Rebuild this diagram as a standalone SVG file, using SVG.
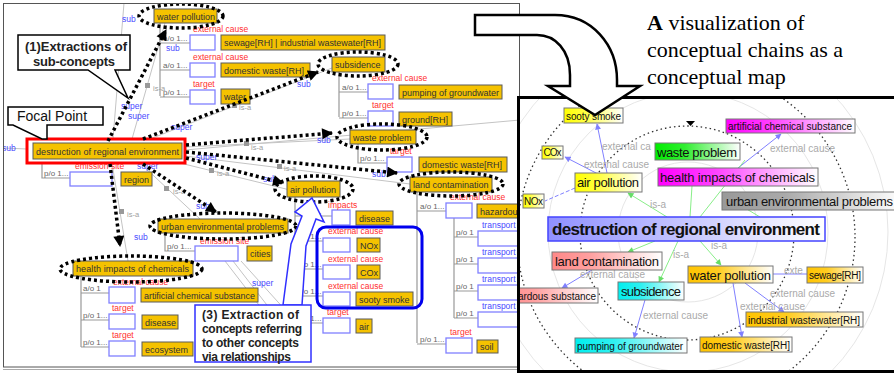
<svg xmlns="http://www.w3.org/2000/svg" width="894" height="374" viewBox="0 0 894 374">
<defs>
<style>
.ob{fill:#f5c200;stroke:#5a5a5a;stroke-width:1}
.wb{fill:#fff;stroke:#8080ff;stroke-width:1.3}
.tx{font-family:"Liberation Sans",Arial,sans-serif;font-size:9px;fill:#333}
.rd{font-family:"Liberation Sans",Arial,sans-serif;font-size:8.5px;fill:#ff3030}
.bl{font-family:"Liberation Sans",Arial,sans-serif;font-size:8.5px;fill:#4a4aff}
.gy{font-family:"Liberation Sans",Arial,sans-serif;font-size:7.5px;fill:#a0a0a0}
.ao{font-family:"Liberation Sans",Arial,sans-serif;font-size:8px;fill:#666}
.gl{stroke:#c4c4c4;stroke-width:1;fill:none}
.tr{stroke:#999;stroke-width:1.2;fill:none}
.dt{stroke:#000;stroke-width:3.5;stroke-dasharray:3 3;fill:none}
.sq{fill:#999}
.co{font-family:"Liberation Sans",Arial,sans-serif;font-weight:bold;fill:#222}
.rn{stroke:#777;stroke-width:1}
.r13{font-family:"Liberation Sans",Arial,sans-serif;font-size:13px;fill:#111}
.r10{font-family:"Liberation Sans",Arial,sans-serif;font-size:10px;fill:#111}
.rl{font-family:"Liberation Sans",Arial,sans-serif;font-size:10px;fill:#aaa}
.be{stroke:#8080ff;stroke-width:1;fill:none}
.ge{stroke:#88ee88;stroke-width:1;fill:none}
.dc{stroke:#333;stroke-width:1.3;stroke-dasharray:1.5 3;fill:none}
.fc{stroke:#e6e6e6;stroke-width:1;fill:none}
.tt{font-family:"Liberation Serif","Times New Roman",serif;font-size:22px;fill:#000}
</style>
<marker id="ah" viewBox="0 0 10 10" refX="9" refY="5" markerWidth="12" markerHeight="11" markerUnits="userSpaceOnUse" orient="auto"><path d="M0,0 L10,5 L0,10 Z" fill="#000"/></marker>
<marker id="bh" viewBox="0 0 10 10" refX="9" refY="5" markerWidth="7" markerHeight="6" markerUnits="userSpaceOnUse" orient="auto"><path d="M0,0 L10,5 L0,10 Z" fill="#8080ff"/></marker>
<marker id="gh" viewBox="0 0 10 10" refX="9" refY="5" markerWidth="7" markerHeight="6" markerUnits="userSpaceOnUse" orient="auto"><path d="M0,0 L10,5 L0,10 Z" fill="#66dd66"/></marker>
<clipPath id="cl"><rect x="4" y="4" width="513" height="363"/></clipPath>
<clipPath id="cr"><rect x="520" y="99" width="374" height="271"/></clipPath>
<linearGradient id="gY"><stop offset="0" stop-color="#ffff00"/><stop offset="0.35" stop-color="#ffff40"/><stop offset="1" stop-color="#fff"/></linearGradient>
<linearGradient id="gO"><stop offset="0" stop-color="#ffc400"/><stop offset="0.35" stop-color="#ffcc20"/><stop offset="1" stop-color="#fff"/></linearGradient>
<linearGradient id="gG"><stop offset="0" stop-color="#00ee00"/><stop offset="0.35" stop-color="#30ee30"/><stop offset="1" stop-color="#fff"/></linearGradient>
<linearGradient id="gM"><stop offset="0" stop-color="#ff00ff"/><stop offset="0.35" stop-color="#ff40ff"/><stop offset="1" stop-color="#fff"/></linearGradient>
<linearGradient id="gS"><stop offset="0" stop-color="#999"/><stop offset="0.35" stop-color="#aaa"/><stop offset="1" stop-color="#fff"/></linearGradient>
<linearGradient id="gB"><stop offset="0" stop-color="#9090ff"/><stop offset="0.3" stop-color="#b0b0ff"/><stop offset="1" stop-color="#fff"/></linearGradient>
<linearGradient id="gP"><stop offset="0" stop-color="#ff8888"/><stop offset="0.35" stop-color="#ffa0a0"/><stop offset="1" stop-color="#fff"/></linearGradient>
<linearGradient id="gC"><stop offset="0" stop-color="#00eeee"/><stop offset="0.35" stop-color="#30f0f0"/><stop offset="1" stop-color="#fff"/></linearGradient>
</defs>
<rect width="894" height="374" fill="#fff"/>

<!-- LEFT PANEL -->
<rect x="3.5" y="3.5" width="516" height="363.5" fill="#fff" stroke="#555" stroke-width="1"/>
<line x1="3" y1="369.5" x2="520" y2="369.5" stroke="#aaa" stroke-width="1"/>
<g clip-path="url(#cl)">
<g id="relations">
<line class="gl" x1="113" y1="139" x2="124" y2="3"/>
<line class="gl" x1="3" y1="148" x2="27" y2="149"/>
<line class="gl" x1="132" y1="139" x2="165" y2="23"/>
<line class="gl" x1="150" y1="139" x2="332" y2="68"/>
<line class="gl" x1="185" y1="147" x2="350" y2="139"/>
<line class="gl" x1="185" y1="150" x2="520" y2="120"/>
<line class="gl" x1="185" y1="156" x2="410" y2="184"/>
<line class="gl" x1="180" y1="163" x2="290" y2="190"/>
<line class="gl" x1="140" y1="163" x2="200" y2="219"/>
<line class="gl" x1="112" y1="163" x2="128" y2="261"/>
<line class="gl" x1="225" y1="261" x2="282" y2="335"/>
<line class="gl" x1="233" y1="261" x2="290" y2="335"/>
<line class="gl" x1="241" y1="261" x2="296" y2="322"/>
<rect class="sq" x="232" y="103" width="5" height="5"/><text class="gy" x="239" y="110">is-a</text>
<rect class="sq" x="145" y="83" width="5" height="5"/><text class="gy" x="153" y="91">is-a</text>
<rect class="sq" x="244" y="141" width="5" height="5"/><text class="gy" x="251" y="150">is-a</text>
<rect class="sq" x="277" y="164" width="5" height="5"/><text class="gy" x="284" y="171">is-a</text>
<rect class="sq" x="209" y="168" width="5" height="5"/><text class="gy" x="217" y="176">is-a</text>
<rect class="sq" x="164" y="186" width="5" height="5"/><text class="gy" x="173" y="194">is-a</text>
<rect class="sq" x="119" y="209" width="5" height="5"/><text class="gy" x="127" y="217">is-a</text>
<text class="bl" x="122" y="22">sub</text>
<text class="bl" x="166" y="51">sub</text>
<text class="bl" x="297" y="87">sub</text>
<text class="bl" x="317" y="143">sub</text>
<text class="bl" x="372" y="177">sub</text>
<text class="bl" x="263" y="182">sub</text>
<text class="bl" x="196" y="209">sub</text>
<text class="bl" x="134" y="240">sub</text>
<text class="bl" x="2" y="151">sub</text>
<text class="bl" x="121" y="109">super</text>
<text class="bl" x="128" y="119">super</text>
<text class="bl" x="171" y="130">super</text>
<text class="bl" x="137" y="169">super</text>
<text class="bl" x="196" y="160">super</text>
<text class="bl" x="252" y="286">super</text>
</g>

<g id="trees">
<path class="tr" d="M160,23V96M160,43H190M160,70H190M160,97H190"/>
<path class="tr" d="M339,72V117M339,92H368M339,118H368"/>
<path class="tr" d="M358,144V163H387"/>
<path class="tr" d="M417,192V343M417,211H446M417,344H446"/>
<path class="tr" d="M454,218V318M454,237H478M454,264H478M454,291H478M454,318H478"/>
<path class="tr" d="M295,197V323M295,216H332M295,241H323M295,269H323M295,296H323M295,323H323"/>
<path class="tr" d="M165,233V251H195"/>
<path class="tr" d="M81,276V347M81,293H109M81,320H109M81,347H109"/>
<path class="tr" d="M42,163V178H70"/>
<text class="ao" x="163" y="41">a/o 1...</text>
<text class="ao" x="163" y="68">a/o 1...</text>
<text class="ao" x="163" y="95">p/o 1...</text>
<text class="ao" x="342" y="90">a/o 1...</text>
<text class="ao" x="342" y="116">p/o 1...</text>
<text class="ao" x="360" y="161">p/o 1...</text>
<text class="ao" x="420" y="209">a/o 1...</text>
<text class="ao" x="420" y="342">p/o 1...</text>
<text class="ao" x="456" y="235">p/o 1</text>
<text class="ao" x="456" y="262">p/o 1</text>
<text class="ao" x="456" y="289">p/o 1</text>
<text class="ao" x="456" y="316">p/o 1</text>
<text class="ao" x="297" y="214">a/o 1...</text>
<text class="ao" x="297" y="239">a/o 1...</text>
<text class="ao" x="297" y="267">a/o 1...</text>
<text class="ao" x="297" y="294">a/o 1...</text>
<text class="ao" x="297" y="321">p/o 1...</text>
<text class="ao" x="167" y="249">p/o 1...</text>
<text class="ao" x="83" y="291">a/o 1</text>
<text class="ao" x="83" y="318">p/o 1...</text>
<text class="ao" x="83" y="345">p/o 1...</text>
<text class="ao" x="44" y="176">p/o 1...</text>
</g>

<g id="slots">
<rect class="wb" x="190" y="35" width="25" height="15"/><text class="rd" x="193" y="32">external cause</text>
<rect class="wb" x="190" y="63" width="25" height="14"/><text class="rd" x="193" y="60">external cause</text>
<rect class="wb" x="190" y="90" width="25" height="14"/><text class="rd" x="193" y="87">target</text>
<rect class="wb" x="368" y="84" width="25" height="15"/><text class="rd" x="372" y="81">external cause</text>
<rect class="wb" x="368" y="111" width="25" height="15"/><text class="rd" x="372" y="108">target</text>
<rect class="wb" x="387" y="157" width="25" height="15"/><text class="rd" x="390" y="154">target</text>
<rect class="wb" x="446" y="203" width="26" height="15"/><text class="rd" x="450" y="200">external cause</text>
<rect class="wb" x="478" y="231" width="45" height="15"/><text class="bl" x="482" y="228">transport</text>
<rect class="wb" x="478" y="258" width="45" height="15"/><text class="bl" x="482" y="255">transport</text>
<rect class="wb" x="478" y="285" width="45" height="15"/><text class="bl" x="482" y="282">transport</text>
<rect class="wb" x="478" y="312" width="45" height="15"/><text class="bl" x="482" y="309">transport</text>
<rect class="wb" x="446" y="338" width="26" height="15"/><text class="rd" x="450" y="335">target</text>
<rect class="wb" x="332" y="210" width="18" height="15"/><text class="rd" x="328" y="208">impacts</text>
<rect class="wb" x="323" y="238" width="27" height="14"/><text class="rd" x="328" y="234">external cause</text>
<rect class="wb" x="323" y="265" width="27" height="14"/><text class="rd" x="328" y="262">external cause</text>
<rect class="wb" x="323" y="292" width="27" height="14"/><text class="rd" x="328" y="289">external cause</text>
<rect class="wb" x="323" y="318" width="27" height="15"/><text class="rd" x="327" y="315">target</text>
<rect class="wb" x="195" y="246" width="43" height="15"/><text class="rd" x="200" y="244">emission site</text>
<rect class="wb" x="109" y="287" width="26" height="16"/><text class="rd" x="113" y="285">external cause</text>
<rect class="wb" x="109" y="314" width="26" height="15"/><text class="rd" x="112" y="311">target</text>
<rect class="wb" x="109" y="341" width="26" height="15"/><text class="rd" x="112" y="338">target</text>
<rect class="wb" x="70" y="172" width="42" height="14"/><text class="rd" x="75" y="169">emission site</text>
</g>

<g id="values">
<rect class="ob" x="221" y="35" width="164" height="15"/><text class="tx" x="224" y="46" textLength="157">sewage[RH] | industrial wastewater[RH]</text>
<rect class="ob" x="221" y="63" width="89" height="14"/><text class="tx" x="224" y="73.5">domestic waste[RH]</text>
<rect class="ob" x="221" y="89" width="29" height="15"/><text class="tx" x="224" y="100">water</text>
<rect class="ob" x="399" y="85" width="103" height="14"/><text class="tx" x="402" y="95.5" textLength="97">pumping of groundwater</text>
<rect class="ob" x="399" y="112" width="53" height="14"/><text class="tx" x="402" y="122.5">ground[RH]</text>
<rect class="ob" x="419" y="157" width="88" height="15"/><text class="tx" x="422" y="168">domestic waste[RH]</text>
<rect class="ob" x="477" y="204" width="60" height="14"/><text class="tx" x="480" y="214.5">hazardous substance</text>
<rect class="ob" x="477" y="340" width="21" height="13"/><text class="tx" x="480" y="350">soil</text>
<rect class="ob" x="356" y="211" width="37" height="14"/><text class="tx" x="359" y="221.5">disease</text>
<rect class="ob" x="357" y="238" width="23" height="14"/><text class="tx" x="360" y="248.5">NOx</text>
<rect class="ob" x="357" y="265" width="23" height="14"/><text class="tx" x="360" y="275.5">COx</text>
<rect class="ob" x="356" y="292" width="57" height="14"/><text class="tx" x="359" y="302.5">sooty smoke</text>
<rect class="ob" x="356" y="319" width="16" height="14"/><text class="tx" x="359" y="329.5">air</text>
<rect class="ob" x="247" y="246" width="25" height="15"/><text class="tx" x="250" y="257">cities</text>
<rect class="ob" x="121" y="172" width="31" height="14"/><text class="tx" x="124" y="182.5">region</text>
<rect class="ob" x="141" y="288" width="117" height="14"/><text class="tx" x="144" y="298.5" textLength="111">artificial chemical substance</text>
<rect class="ob" x="142" y="315" width="36" height="14"/><text class="tx" x="145" y="325.5">disease</text>
<rect class="ob" x="142" y="342" width="51" height="14"/><text class="tx" x="145" y="352.5">ecosystem</text>
</g>

<g id="focal">
<rect x="27" y="139" width="158" height="24" fill="#fff" stroke="#ff0000" stroke-width="3"/>
<rect class="ob" x="33" y="143" width="149" height="16"/>
<text class="tx" x="36" y="154.5" textLength="143">destruction of regional environment</text>
</g>
<g id="n-water-pollution"><rect class="ob" x="154" y="9" width="63" height="14"/><text class="tx" x="157" y="19.5">water pollution</text></g>
<g id="n-subsidence"><rect class="ob" x="332" y="57" width="53" height="15"/><text class="tx" x="335" y="68">subsidence</text></g>
<g id="n-waste-problem"><rect class="ob" x="350" y="130" width="66" height="14"/><text class="tx" x="353" y="140.5">waste problem</text></g>
<g id="n-land-contamination"><rect class="ob" x="410" y="177" width="82" height="15"/><text class="tx" x="413" y="188">land contamination</text></g>
<g id="n-air-pollution"><rect class="ob" x="287" y="181" width="53" height="16"/><text class="tx" x="290" y="192.5">air pollution</text></g>
<g id="n-urban"><rect class="ob" x="158" y="219" width="130" height="14"/><text class="tx" x="161" y="229.5" textLength="123">urban environmental problems</text></g>
<g id="n-health"><rect class="ob" x="73" y="261" width="120" height="15"/><text class="tx" x="76" y="272" textLength="113">health impacts of chemicals</text></g>

<g id="extraction-connectors">
<ellipse class="dt" cx="181" cy="16" rx="42" ry="12"/>
<ellipse class="dt" cx="358" cy="64" rx="40" ry="12"/>
<ellipse class="dt" cx="382" cy="137" rx="45" ry="13"/>
<ellipse class="dt" cx="451" cy="184" rx="52" ry="12"/>
<ellipse class="dt" cx="314" cy="189" rx="39" ry="13"/>
<ellipse class="dt" cx="223" cy="226" rx="73" ry="13"/>
<ellipse class="dt" cx="131" cy="269" rx="71" ry="13"/>
<line class="dt" x1="108" y1="141" x2="166" y2="30" marker-end="url(#ah)"/>
<line class="dt" x1="143" y1="139" x2="318" y2="72" marker-end="url(#ah)"/>
<line class="dt" x1="186" y1="145" x2="332" y2="133" marker-end="url(#ah)"/>
<line class="dt" x1="186" y1="152" x2="397" y2="173" marker-end="url(#ah)"/>
<line class="dt" x1="186" y1="158" x2="283" y2="183" marker-end="url(#ah)"/>
<line class="dt" x1="143" y1="164" x2="216" y2="212" marker-end="url(#ah)"/>
<line class="dt" x1="110" y1="164" x2="120" y2="246" marker-end="url(#ah)"/>
</g>

<g id="group-box">
<rect x="317" y="227" width="105" height="81" rx="9" fill="none" stroke="#0000ee" stroke-width="3"/>
</g>

<g id="callout-1">
<path d="M88,70 H18 V35 H130 V70 H115 L128,98 Z" fill="#fff" stroke="#000" stroke-width="1.5" stroke-linejoin="miter"/>
<text class="co" x="25" y="51" font-size="13" textLength="102">(1)Extractions of</text>
<text class="co" x="33" y="66" font-size="13" textLength="82">sub-concepts</text>
</g>
<g id="callout-focal">
<path d="M13,125 H8 V107 H103 V125 H47 V139 L42,139 Z" fill="#fff" stroke="#000" stroke-width="1.5"/>
<text x="17" y="121" font-family="Liberation Sans, Arial, sans-serif" font-size="14" fill="#111">Focal Point</text>
</g>
<g id="callout-3">
<path d="M283,305 L291,244 L302,216 L295,212 L312,198 L324,222 L316,219 L306,246 L302,305 Z" fill="#fff" stroke="#3030ff" stroke-width="1.5"/>
<rect x="195" y="305" width="116" height="57" fill="#fff" stroke="#3030ff" stroke-width="1.5"/>
<text class="co" x="202" y="319" font-size="12" textLength="97">(3) Extraction of</text>
<text class="co" x="202" y="333" font-size="12" textLength="100">concepts referring</text>
<text class="co" x="202" y="347" font-size="12" textLength="97">to other concepts</text>
<text class="co" x="202" y="361" font-size="12" textLength="89">via relationships</text>
</g>
</g>

<!-- RIGHT PANEL -->
<rect x="518.5" y="97.5" width="380" height="274" fill="#fff" stroke="#000" stroke-width="3"/>
<g clip-path="url(#cr)">
<g id="rings">
<circle class="fc" cx="688" cy="232" r="70"/>
<circle class="fc" cx="688" cy="232" r="140"/>
<circle class="fc" cx="688" cy="232" r="200"/>
<circle class="dc" cx="687" cy="233" r="107"/>
<circle class="dc" cx="686" cy="237" r="169"/>
<path d="M686,121 H695 L690.5,126 Z" fill="#000"/>
</g>
<g id="map-connectors">
<line class="be" x1="607" y1="173" x2="597" y2="124" marker-end="url(#bh)"/>
<line class="be" x1="598" y1="174" x2="565" y2="157" marker-end="url(#bh)"/>
<line class="be" x1="575" y1="188" x2="545" y2="201" stroke-dasharray="4 2"/>
<text class="rl" x="602" y="150">external ca</text>
<text class="rl" x="584" y="168">external cause</text>
<line class="be" x1="738" y1="168" x2="781" y2="134" marker-end="url(#bh)"/>
<text class="rl" x="770" y="152">external cause</text>
<line class="be" x1="592" y1="270" x2="562" y2="288" marker-end="url(#bh)"/>
<text class="rl" x="580" y="278">external cause</text>
<line class="be" x1="645" y1="300" x2="634" y2="338" marker-end="url(#bh)"/>
<text class="rl" x="643" y="319">external cause</text>
<line class="be" x1="773" y1="274" x2="807" y2="274"/>
<text class="rl" x="784" y="274">exte</text>
<line class="be" x1="745" y1="283" x2="784" y2="312" marker-end="url(#bh)"/>
<text class="rl" x="770" y="297">external cause</text>
<line class="be" x1="733" y1="283" x2="742" y2="337" marker-end="url(#bh)"/>
<text class="rl" x="740" y="310">external cause</text>
<line class="ge" x1="667" y1="217" x2="628" y2="193" marker-end="url(#gh)"/>
<text class="rl" x="650" y="208">is-a</text>
<line class="ge" x1="690" y1="217" x2="692" y2="186"/>
<line class="ge" x1="700" y1="217" x2="745" y2="160"/>
<line class="ge" x1="760" y1="217" x2="740" y2="205"/>
<line class="ge" x1="655" y1="241" x2="628" y2="252" marker-end="url(#gh)"/>
<line class="ge" x1="678" y1="241" x2="659" y2="282" marker-end="url(#gh)"/>
<text class="rl" x="673" y="258">is-a</text>
<line class="ge" x1="700" y1="241" x2="721" y2="265" marker-end="url(#gh)"/>
<text class="rl" x="711" y="249">is-a</text>
</g>
<g id="m-sooty-smoke"><rect class="rn" x="564" y="108" width="59" height="15" fill="url(#gY)"/><text class="r10" x="566" y="119.5" textLength="55">sooty smoke</text></g>
<g id="m-cox"><rect class="rn" x="542" y="146" width="21" height="13" fill="url(#gY)"/><text class="r10" x="543.5" y="156" textLength="18">COx</text></g>
<g id="m-nox"><rect class="rn" x="523" y="194" width="21" height="14" fill="url(#gY)"/><text class="r10" x="524" y="205" textLength="19">NOx</text></g>
<g id="m-air-pollution"><rect class="rn" x="575" y="173" width="67" height="19" fill="url(#gY)"/><text class="r13" x="577" y="187" textLength="62">air pollution</text></g>
<g id="m-waste-problem"><rect class="rn" x="655" y="143" width="85" height="17" fill="url(#gG)"/><text class="r13" x="657" y="156.5" textLength="80">waste problem</text></g>
<g id="m-health"><rect class="rn" x="658" y="168" width="160" height="18" fill="url(#gM)"/><text class="r13" x="660" y="181.5" textLength="155">health impacts of chemicals</text></g>
<g id="m-artificial"><rect class="rn" x="726" y="119" width="129" height="14" fill="url(#gM)"/><text class="r10" x="728" y="130" textLength="124">artificial chemical substance</text></g>
<g id="m-urban"><rect class="rn" x="722" y="192" width="180" height="18" fill="url(#gS)"/><text class="r13" x="726" y="205.5" textLength="167">urban environmental problems</text></g>
<g id="m-focal"><rect x="548" y="217" width="277" height="24" fill="url(#gB)" stroke="#4444ff" stroke-width="1.5"/><text x="552" y="235" font-family="Liberation Sans, Arial, sans-serif" font-size="17" font-weight="bold" fill="#111" textLength="268">destruction of regional environment</text></g>
<g id="m-land"><rect class="rn" x="552" y="252" width="110" height="18" fill="url(#gP)"/><text class="r13" x="555" y="265.5" textLength="104">land contamination</text></g>
<g id="m-hazardous"><rect class="rn" x="500" y="288" width="98" height="15" fill="url(#gP)"/><text class="r10" x="502" y="299.5" textLength="94">hazardous substance</text></g>
<g id="m-subsidence"><rect class="rn" x="618" y="282" width="66" height="18" fill="url(#gC)"/><text class="r13" x="621" y="295.5" textLength="60">subsidence</text></g>
<g id="m-pumping"><rect class="rn" x="575" y="338" width="112" height="15" fill="url(#gC)"/><text class="r10" x="577" y="349.5" textLength="106">pumping of groundwater</text></g>
<g id="m-water-pollution"><rect class="rn" x="688" y="266" width="85" height="17" fill="url(#gO)"/><text class="r13" x="690" y="279.5" textLength="81">water pollution</text></g>
<g id="m-sewage"><rect class="rn" x="807" y="267" width="56" height="16" fill="url(#gO)"/><text class="r10" x="809" y="279" textLength="52">sewage[RH]</text></g>
<g id="m-industrial"><rect class="rn" x="746" y="312" width="117" height="15" fill="url(#gO)"/><text class="r10" x="748" y="323.5" textLength="112">industrial wastewater[RH]</text></g>
<g id="m-domestic"><rect class="rn" x="700" y="337" width="92" height="15" fill="url(#gO)"/><text class="r10" x="702" y="348.5" textLength="88">domestic waste[RH]</text></g>
</g>

<!-- big hollow arrow -->
<g id="big-arrow">
<path d="M475,15 H555 C592,15 617,45 617,80 V86 H640 L595,115 L548,86 H570 V75 C570,50 555,35 537,35 H475 Z" fill="#fff" stroke="#000" stroke-width="2.5" stroke-linejoin="miter"/>
</g>
<g id="title">
<text class="tt" x="647" y="30"><tspan font-weight="bold">A</tspan> visualization of</text>
<text class="tt" x="647" y="57">conceptual chains as a</text>
<text class="tt" x="647" y="84">conceptual map</text>
</g>
</svg>
